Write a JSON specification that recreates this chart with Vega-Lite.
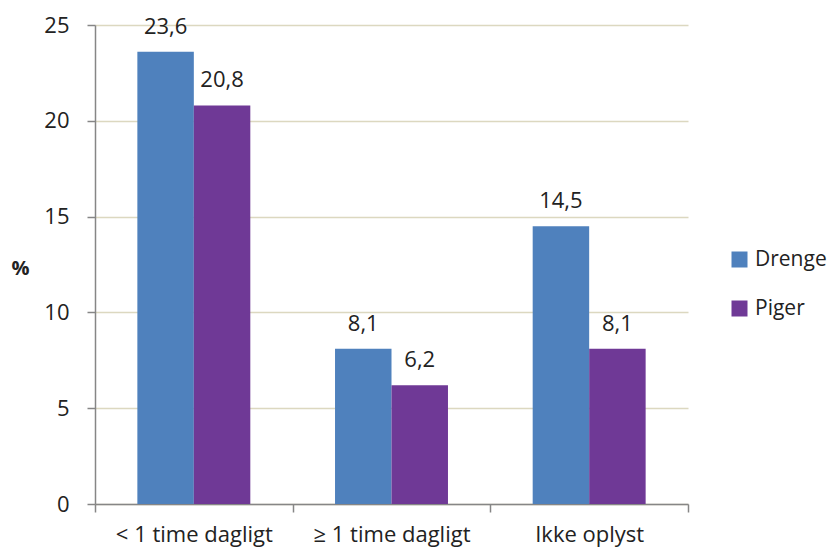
{
  "$schema": "https://vega.github.io/schema/vega-lite/v6.json",
  "autosize": {"type": "none"},
  "padding": {"left": 95, "top": 25, "right": 143, "bottom": 48},
  "width": 593,
  "height": 479,
  "background": "#ffffff",
  "config": {
    "view": {"stroke": null},
    "locale": {"number": {"decimal": ",", "thousands": ".", "grouping": [3], "currency": ["", " kr."]}},
    "font": "Open Sans"
  },
  "data": {
    "values": [
      {"kategori": "< 1 time dagligt", "koen": "Drenge", "pct": 23.6},
      {"kategori": "< 1 time dagligt", "koen": "Piger", "pct": 20.8},
      {"kategori": "≥ 1 time dagligt", "koen": "Drenge", "pct": 8.1},
      {"kategori": "≥ 1 time dagligt", "koen": "Piger", "pct": 6.2},
      {"kategori": "Ikke oplyst", "koen": "Drenge", "pct": 14.5},
      {"kategori": "Ikke oplyst", "koen": "Piger", "pct": 8.1}
    ]
  },
  "encoding": {
    "x": {
      "field": "kategori", "type": "nominal", "sort": null,
      "scale": {"paddingInner": 0, "paddingOuter": 0},
      "axis": {
        "title": null, "labelAngle": 0, "labelFontSize": 22, "labelColor": "#222222",
        "labelFont": "Open Sans", "labelPadding": 12,
        "domainColor": "#868686", "domainWidth": 1.5, "tickColor": "#868686", "tickWidth": 1.5,
        "tickSize": 8, "tickBand": "extent", "grid": false
      }
    },
    "xOffset": {"field": "koen", "type": "nominal", "scale": {"paddingInner": 0, "paddingOuter": 0.75}},
    "y": {
      "field": "pct", "type": "quantitative",
      "scale": {"domain": [0, 25]},
      "axis": {
        "values": [0, 5, 10, 15, 20, 25],
        "title": "%", "titleAngle": 0, "titleX": -75, "titleY": 243, "titleAlign": "center",
        "titleBaseline": "middle", "titleFontSize": 20, "titleFontWeight": "bold", "titleColor": "#222222",
        "labelFontSize": 22, "labelColor": "#222222", "labelPadding": 18,
        "domainColor": "#868686", "domainWidth": 1.5, "tickColor": "#868686", "tickWidth": 1.5, "tickSize": 8,
        "gridColor": "#dcd8c0", "gridWidth": 1.5
      }
    }
  },
  "layer": [
    {
      "mark": {"type": "bar"},
      "encoding": {
        "color": {
          "field": "koen", "type": "nominal",
          "scale": {"domain": ["Drenge", "Piger"], "range": ["#4f81bd", "#6f3996"]},
          "legend": {
            "title": null, "orient": "none", "legendX": 634, "legendY": 224,
            "symbolType": "square", "symbolSize": 256, "symbolStrokeWidth": 0,
            "labelFontSize": 21, "labelColor": "#222222", "labelOffset": 5, "rowPadding": 27
          }
        }
      }
    },
    {
      "mark": {"type": "text", "baseline": "alphabetic", "dy": -18, "fontSize": 22, "color": "#222222"},
      "encoding": {
        "text": {"field": "pct", "type": "quantitative", "format": ".1f"}
      }
    }
  ]
}
